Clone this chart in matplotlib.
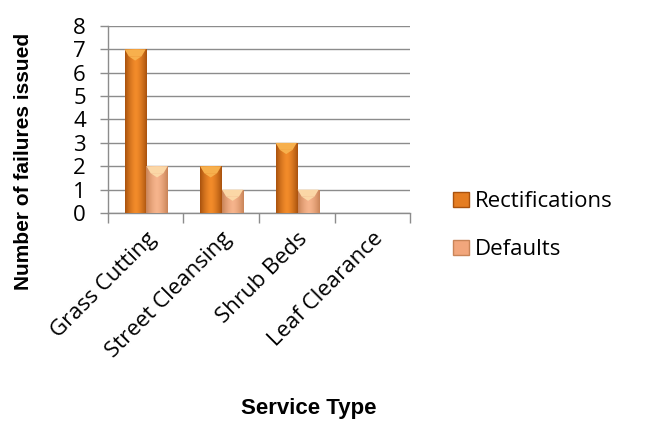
import numpy as np
import matplotlib.pyplot as plt
from matplotlib.patches import Polygon, Patch
from matplotlib.colors import LinearSegmentedColormap

# --- data ---
services = ["Grass Cutting", "Street Cleansing", "Shrub Beds", "Leaf Clearance"]
rectifications = [7, 2, 3, 0]
defaults = [2, 1, 1, 0]

fig = plt.figure(figsize=(6.45, 4.26), dpi=100)
ax = fig.add_axes([0.1674, 0.5, 0.4683, 0.439])

grey = "#8c8c8c"
x = np.arange(len(services))
width = 0.28


def shaded_bars(xpos, heights, c_edge, c_mid, c_top):
    bars = ax.bar(xpos, heights, width, color=c_mid, edgecolor="none", zorder=3)
    grad = np.linspace(-1, 1, 64)
    grad = 1 - np.abs(grad) ** 1.5
    cmap = LinearSegmentedColormap.from_list("b", [c_edge, c_mid])
    for b in bars:
        h = b.get_height()
        if h <= 0:
            continue
        x0, w = b.get_x(), b.get_width()
        im = ax.imshow(grad[None, :], cmap=cmap, aspect="auto",
                       extent=[x0, x0 + w, 0, h], zorder=3, vmin=0, vmax=1)
        im.set_clip_path(b)
        # bevelled top
        d = min(0.3, h * 0.3)
        ax.add_patch(Polygon([[x0, h], [x0 + w, h], [x0 + w * 0.8, h - d],
                              [x0 + w * 0.2, h - d]],
                             closed=True, color=c_top, zorder=4, lw=0))
        ax.add_patch(Polygon([[x0 + w * 0.2, h - d], [x0 + w * 0.8, h - d],
                              [x0 + w * 0.5, h - d * 1.6]],
                             closed=True, color=c_top, zorder=4, lw=0))
    return bars


shaded_bars(x - 0.14, rectifications, "#a9520e", "#f28b2a", "#f7b04d")
shaded_bars(x + 0.15, defaults, "#c98458", "#f6b48c", "#fbd7a6")

ax.set_xlim(-0.5, 3.5)
ax.set_ylim(0, 8)
ax.set_yticks(range(0, 9))
ax.yaxis.grid(True, color=grey, lw=1)
ax.set_axisbelow(True)
for s in ["top", "right"]:
    ax.spines[s].set_visible(False)
for s in ["left", "bottom"]:
    ax.spines[s].set_color(grey)
    ax.spines[s].set_linewidth(1)

ax.set_xticks(x)
ax.set_xticks(np.arange(-0.5, 4, 1), minor=True)
ax.tick_params(axis="x", which="major", length=0, pad=11)
ax.tick_params(axis="x", which="minor", length=7, color=grey, width=1)
ax.tick_params(axis="y", length=6, color=grey, width=1, pad=10)
ax.set_xticklabels(services, rotation=45, ha="right", rotation_mode="anchor",
                   fontsize=16, family="Open Sans")
for t in ax.get_yticklabels():
    t.set_family("Open Sans")
    t.set_fontsize(16)

fig.text(0.036, 0.62, "Number of failures issued", rotation=90,
         ha="center", va="center", fontsize=15, fontweight="bold",
         family="Liberation Sans")
fig.text(0.478, 0.042, "Service Type", ha="center", va="center", fontsize=16,
         fontweight="bold", family="Liberation Sans")

handles = [Patch(facecolor="#e57d22", edgecolor="#a9520e"),
           Patch(facecolor="#f2a67c", edgecolor="#c98458")]
fig.legend(handles, ["Rectifications", "Defaults"], loc="center left",
           bbox_to_anchor=(0.672, 0.47), frameon=False, handlelength=0.7,
           handleheight=0.7, handletextpad=0.25, labelspacing=1.2,
           prop={"family": "Open Sans", "size": 16})

fig.savefig("out.png", dpi=100)
